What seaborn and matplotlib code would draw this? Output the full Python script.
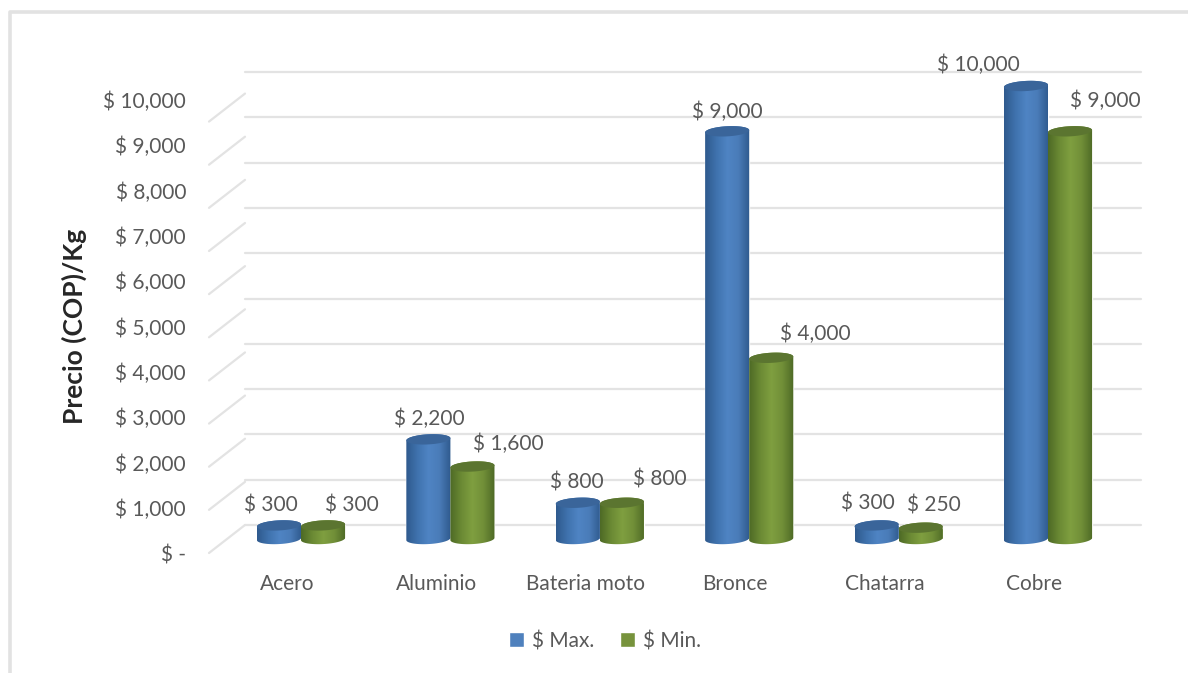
import numpy as np
import pandas as pd
import seaborn as sns
import matplotlib.pyplot as plt
from matplotlib.colors import LinearSegmentedColormap
from matplotlib.patches import PathPatch, Polygon
from matplotlib.lines import Line2D
from matplotlib.path import Path
from matplotlib.transforms import Affine2D

WIDTH, HEIGHT = 1188, 673

materiales = ['Acero', 'Aluminio', 'Bateria moto', 'Bronce', 'Chatarra', 'Cobre']
precio_max = [300, 2200, 800, 9000, 300, 10000]
precio_min = [300, 1600, 800, 4000, 250, 9000]
series = ['$ Max.', '$ Min.']
y_ticks = [0, 1000, 2000, 3000, 4000, 5000, 6000, 7000, 8000, 9000, 10000]

# label offsets from the top of each cylinder, in pixels (picked by eye)
offset_max = [(-8, 20), (1, 20), (-1, 20), (0, 19), (-9, 22), (-48, 21)]
offset_min = [(29, 20), (36, 23), (38, 23), (44, 24), (13, 22), (35, 30)]

TEXT = '#595959'
GRID = '#e3e3e3'
FONT = 15
DEPTH = 14  # px between cylinder plane and back wall
WALL = 36
ELL = 112
TILT = 25


def cylinder_outline(x0, x1, top):
    # body with rounded bottom, slightly tilted like the excel 3d bars
    xc, r = (x0 + x1) / 2, (x1 - x0) / 2
    t = np.linspace(np.pi, 2 * np.pi, 40)
    bottom = np.c_[xc + r * np.cos(t), ELL * np.sin(t) + TILT * np.cos(t)]
    t = np.linspace(0, np.pi, 40)
    upper = np.c_[xc + r * np.cos(t), top + ELL * np.sin(t) + TILT * np.cos(t)]
    return np.vstack([bottom, upper])


def cap_outline(x0, x1, top):
    xc, r = (x0 + x1) / 2, (x1 - x0) / 2
    t = np.linspace(0, 2 * np.pi, 80)
    return np.c_[xc + r * np.cos(t), top + ELL * np.sin(t) + TILT * np.cos(t)]


def draw_cylinders(ax, bars, shade, cap_color, zorder):
    cmap = LinearSegmentedColormap.from_list('cyl', shade)
    gradient = np.linspace(0, 1, 64).reshape(1, -1)
    for bar in bars:
        x0, x1 = bar.get_x(), bar.get_x() + bar.get_width()
        top = bar.get_height()
        body = PathPatch(Path(cylinder_outline(x0, x1, top)), facecolor='none',
                         edgecolor='none', transform=ax.transData)
        ax.add_patch(body)
        body.set_clip_on(False)
        im = ax.imshow(gradient, cmap=cmap, aspect='auto', zorder=zorder,
                       extent=(x0, x1, -300, top + 300))
        im.set_clip_path(body)
        im.set_clip_box(ax.figure.bbox)
        ax.add_patch(Polygon(cap_outline(x0, x1, top), closed=True,
                             facecolor=cap_color, edgecolor='none',
                             zorder=zorder + 0.1, clip_on=False))


def main():
    sns.set_theme(style='white')
    plt.rcParams['font.family'] = ['Lato', 'DejaVu Sans']

    df = pd.DataFrame({
        'material': materiales * 2,
        'precio': precio_max + precio_min,
        'serie': [series[0]] * len(materiales) + [series[1]] * len(materiales),
    })

    fig = plt.figure(figsize=(WIDTH / 100, HEIGHT / 100), dpi=100)
    ax = fig.add_axes([209 / WIDTH, 1 - 539 / HEIGHT, 932 / WIDTH, 453 / HEIGHT])
    sns.barplot(data=df, x='material', y='precio', hue='serie', errorbar=None,
                palette=['#4f81bd', '#77933c'], width=0.59, gap=0, saturation=1,
                ax=ax)

    sns.despine(ax=ax, left=True, bottom=True)
    ax.set_facecolor('none')
    ax.set_xlabel('')
    ax.set_ylabel('Precio (COP)/Kg', fontsize=19, fontweight='bold', color='#262626')
    ax.yaxis.set_label_coords((87 - 209) / 932, (539 - 326) / 453)

    # walls of the fake 3d box
    back = ax.get_yaxis_transform() + Affine2D().translate(0, DEPTH)
    wall = WALL / 932
    for v in y_ticks:
        ax.plot([wall, 1], [v, v], color=GRID, lw=1.6, transform=back,
                clip_on=False, zorder=0.5)
        p0 = ax.get_yaxis_transform().transform((0, v)) + (0, -DEPTH)
        p1 = ax.get_yaxis_transform().transform((wall, v)) + (0, DEPTH)
        ax.plot([p0[0], p1[0]], [p0[1], p1[1]], color=GRID, lw=1.6,
                transform=None, clip_on=False, zorder=0.5)

    draw_cylinders(ax, ax.containers[0],
                   ['#2f5a8e', '#3f72ad', '#4f84c4', '#4a7cb8', '#2f5a8e'], '#3a659a', 2)
    draw_cylinders(ax, ax.containers[1],
                   ['#4e6a26', '#6b8a34', '#7f9f40', '#718f38', '#4e6a26'], '#5b7530', 3)

    for bars, offsets in zip(ax.containers, [offset_max, offset_min]):
        for bar, off in zip(bars, offsets):
            ax.annotate(f'$ {int(bar.get_height()):,}',
                        (bar.get_x() + bar.get_width() / 2, bar.get_height()),
                        xytext=off, textcoords='offset pixels', ha='center',
                        va='center', fontsize=FONT, color=TEXT,
                        annotation_clip=False, zorder=5)

    ax.set_xlim((209 - 301) / 149.4, (1141 - 301) / 149.4)
    ax.set_ylim(0, 10000)
    ax.set_yticks(y_ticks)
    ax.set_yticklabels(['$ -' if v == 0 else f'$ {v:,}' for v in y_ticks])
    ax.tick_params(axis='y', length=0, pad=16.5, labelsize=FONT, labelcolor=TEXT)
    ax.tick_params(axis='x', length=0, pad=25, labelsize=FONT, labelcolor=TEXT)
    for lab in ax.get_yticklabels():
        lab.set_transform(lab.get_transform() + Affine2D().translate(0, -DEPTH))
    for lab in ax.get_xticklabels():
        lab.set_transform(lab.get_transform() + Affine2D().translate(-DEPTH, 0))

    handles, labels = ax.get_legend_handles_labels()
    ax.legend(handles, labels, loc='center', ncol=2, frameon=False,
              bbox_to_anchor=(605 / WIDTH, 1 - 641 / HEIGHT),
              bbox_transform=fig.transFigure, fontsize=FONT, labelcolor=TEXT,
              handlelength=0.72, handleheight=0.72, handletextpad=0.4,
              columnspacing=1.2)

    # chart area border, only top and left are inside the crop
    fig.add_artist(Line2D([10 / WIDTH, 10 / WIDTH, 1], [0, 1 - 12 / HEIGHT, 1 - 12 / HEIGHT],
                          transform=fig.transFigure, color='#e2e2e2', lw=2.6))

    fig.savefig('out.png', dpi=100)
    plt.close(fig)


if __name__ == '__main__':
    main()
